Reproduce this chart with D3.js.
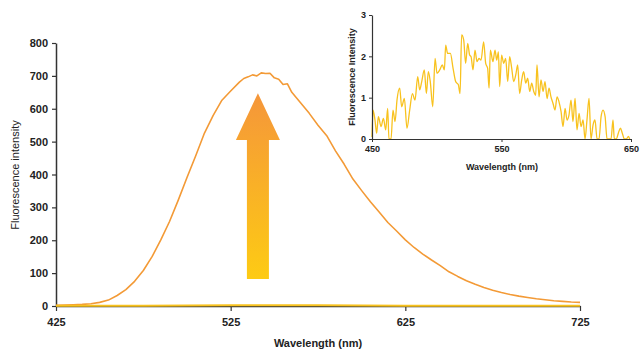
<!DOCTYPE html>
<html>
<head>
<meta charset="utf-8">
<script src="https://cdn.jsdelivr.net/npm/d3@7"></script>
<style>
  body { margin: 0; background: #fff; }
  text { font-family: "Liberation Sans", Arial, sans-serif; fill: #222; }
</style>
</head>
<body>
<svg id="mainsvg" width="640" height="351"></svg>
<script>
// main spectrum (after)
const mainWl = [425, 430, 435, 440, 445, 450, 455, 460, 465, 470, 475, 480, 485, 490, 495, 500, 505, 510,
  515, 520, 525, 530, 532.5, 535, 537.5, 540, 542.5, 545, 547.5, 550, 552.5, 555, 557.5, 560, 562.5, 565,
  570, 575, 580, 585, 590, 595, 600, 605, 610, 615, 620, 625, 630, 635, 640, 645, 650, 655, 660, 665,
  670, 675, 680, 685, 690, 695, 700, 705, 710, 715, 720, 725];
const mainVal = [2, 3, 4, 5, 7, 11, 18, 32, 50, 75, 108, 150, 201, 257, 322, 391, 457, 526,
  580, 626, 654, 681, 692, 697, 703, 700, 709, 707, 708, 694, 690, 674, 676, 650, 634, 618,
  586, 550, 518, 472, 431, 386, 351, 317, 286, 254, 228,
  201, 178, 158, 140, 123, 104, 90, 77, 66,
  56, 48, 41, 35, 30, 26, 22, 19, 16, 14, 12, 11];
// baseline spectrum (before) on the main chart
const baseWl = [425, 475, 525, 575, 625, 675, 725];
const baseVal = [1, 1, 2, 2, 1, 1, 1];

// inset spectrum
const insetWl = [450.0, 450.8, 452.3, 453.6, 454.9, 457.0, 458.8, 460.6, 462.1, 463.1, 464.7, 466.2, 467.8,
  469.3, 471.4, 472.9, 475.0, 477.0, 479.1, 481.2, 483.2, 485.3, 486.8, 488.4, 490.4, 492.0, 493.5, 495.0,
  496.9, 498.7, 500.2, 502.3, 504.3, 505.9, 506.9, 508.4, 510.5, 512.6, 514.6, 516.7, 518.0, 519.2, 520.8,
  522.3, 523.9, 525.4, 526.5, 528.0, 529.5, 531.1, 532.6, 534.2, 536.2, 537.8, 539.3, 540.4, 541.4, 543.4,
  545.0, 546.3, 547.6, 548.6, 550.1, 551.7, 553.2, 554.8, 556.3, 557.9, 559.4, 561.0, 562.5, 564.0, 565.6,
  567.1, 568.7, 570.2, 571.8, 573.3, 574.9, 576.4, 577.4, 579.0, 580.5, 582.1, 583.6, 585.2, 586.7, 588.2,
  589.8, 591.3, 592.9, 594.4, 596.0, 597.5, 599.1, 600.6, 602.1, 603.7, 605.2, 606.8, 608.3, 609.9, 611.4,
  613.0, 614.5, 616.0, 617.6, 619.1, 620.7, 622.2, 623.8, 625.3, 626.9, 628.4, 630.0, 631.5, 633.0, 634.6,
  636.1, 637.1, 638.7, 640.2, 641.8, 643.3, 644.9, 646.4, 648.0, 649.0];
const insetVal = [0.05, 0.70, 0.46, 0.14, 0.54, 0.30, 0.50, 0.22, 0.74, 0.00, 0.00, 0.70, 0.42,
  0.94, 1.23, 0.78, 0.98, 0.26, 0.70, 1.10, 0.94, 1.51, 1.19, 1.39, 1.67, 1.10, 1.63, 1.39,
  0.78, 1.95, 1.59, 1.67, 1.79, 1.67, 2.27, 2.07, 2.07, 1.71, 1.39, 1.31, 1.10, 2.52, 2.40,
  1.83, 2.31, 2.03, 1.99, 1.67, 2.15, 1.87, 1.95, 1.91, 2.35, 1.83, 1.71, 1.23, 2.15, 1.87,
  2.15, 1.91, 2.11, 1.27, 2.03, 1.83, 1.95, 1.39, 1.99, 1.71, 1.39, 1.55, 1.79, 1.10, 1.43,
  1.63, 1.35, 1.47, 1.15, 1.35, 1.15, 1.06, 1.79, 1.02, 1.43, 1.15, 1.39, 0.98, 1.23, 1.02,
  0.86, 0.70, 1.02, 0.90, 0.66, 0.30, 0.74, 0.46, 0.58, 0.94, 0.42, 0.98, 0.22, 0.62, 0.30,
  0.46, 0.00, 0.46, 0.98, 0.00, 0.34, 0.46, 0.00, 0.00, 0.54, 0.70, 0.54, 0.00, 0.00, 0.00,
  0.46, 0.00, 0.00, 0.14, 0.26, 0.14, 0.00, 0.00, 0.06, 0.00];

const mainXTicks = [425, 525, 625, 725];
const mainYTicks = [0, 100, 200, 300, 400, 500, 600, 700, 800];
const insetXTicks = [450, 550, 650];
const insetYTicks = [0, 1, 2, 3];

// arrow annotation, in data units: [wavelength, intensity]
const arrowPts = [[534.3, 82], [534.3, 505], [528, 505], [540.6, 647], [553.2, 505], [546.9, 505], [546.9, 82]];

const svg = d3.select('#mainsvg');
const orange = '#f39a36';
const yellow = '#f8c21e';

// ---------- main chart ----------
const x = d3.scaleLinear().domain([425, 725]).range([56, 580]);
const y = d3.scaleLinear().domain([0, 800]).range([306, 43]);

const defs = svg.append('defs');
const grad = defs.append('linearGradient').attr('id', 'arrowGrad')
  .attr('x1', 0).attr('y1', 0).attr('x2', 0).attr('y2', 1);
grad.append('stop').attr('offset', '0%').attr('stop-color', '#f5963a');
grad.append('stop').attr('offset', '100%').attr('stop-color', '#fdcb14');

svg.append('path')
  .attr('d', d3.line().x(d => x(d[0])).y(d => y(d[1]))(arrowPts) + 'Z')
  .attr('fill', 'url(#arrowGrad)');

const yAxisG = svg.append('g')
  .attr('transform', 'translate(56,0)')
  .call(d3.axisLeft(y).tickValues(mainYTicks).tickSize(4).tickPadding(4).tickSizeOuter(0));
const xAxisG = svg.append('g')
  .attr('transform', 'translate(0,306)')
  .call(d3.axisBottom(x).tickValues(mainXTicks).tickSize(5).tickPadding(7).tickSizeOuter(0));

[yAxisG, xAxisG].forEach(g => {
  g.select('.domain').attr('stroke', '#333').attr('stroke-width', 1.5);
  g.selectAll('.tick line').attr('stroke', '#333').attr('stroke-width', 1.2);
  g.selectAll('.tick text').attr('font-size', 11).attr('font-weight', 'bold')
    .attr('font-family', '"Liberation Sans", Arial, sans-serif').attr('fill', '#222');
});

const line = d3.line().x(d => x(d[0])).y(d => y(d[1]));

svg.append('path')
  .datum(mainWl.map((w, i) => [w, mainVal[i]]))
  .attr('d', line)
  .attr('fill', 'none').attr('stroke', orange).attr('stroke-width', 1.6)
  .attr('stroke-linejoin', 'round');

// the "before" spectrum lies on the x axis
svg.append('path')
  .datum(baseWl.map((w, i) => [w, baseVal[i]]))
  .attr('d', line)
  .attr('fill', 'none').attr('stroke', yellow).attr('stroke-width', 2);

svg.append('text')
  .attr('transform', 'translate(19,175) rotate(-90)')
  .attr('text-anchor', 'middle')
  .attr('font-size', 11)
  .text('Fluorescence intensity');

svg.append('text')
  .attr('x', 318).attr('y', 347)
  .attr('text-anchor', 'middle')
  .attr('font-size', 11).attr('font-weight', 'bold')
  .text('Wavelength (nm)');

// ---------- inset ----------
const ix = d3.scaleLinear().domain([450, 650]).range([372, 631]);
const iy = d3.scaleLinear().domain([0, 3]).range([139, 15]);

svg.append('path')
  .datum(insetWl.map((w, i) => [w, insetVal[i]]))
  .attr('d', d3.line().x(d => ix(d[0])).y(d => iy(d[1])).curve(d3.curveMonotoneX))
  .attr('fill', 'none').attr('stroke', yellow).attr('stroke-width', 1.3);

const iyAxisG = svg.append('g')
  .attr('transform', 'translate(372,0)')
  .call(d3.axisLeft(iy).tickValues(insetYTicks).tickFormat(d3.format('d'))
    .tickSize(3).tickPadding(3).tickSizeOuter(0));
const ixAxisG = svg.append('g')
  .attr('transform', 'translate(0,139)')
  .call(d3.axisBottom(ix).tickValues(insetXTicks).tickSize(3).tickPadding(4).tickSizeOuter(0));

[iyAxisG, ixAxisG].forEach(g => {
  g.select('.domain').attr('stroke', '#333').attr('stroke-width', 1.2);
  g.selectAll('.tick line').attr('stroke', '#333');
  g.selectAll('.tick text').attr('font-size', 9).attr('font-weight', 'bold')
    .attr('font-family', '"Liberation Sans", Arial, sans-serif').attr('fill', '#222');
});

svg.append('text')
  .attr('transform', 'translate(355,77) rotate(-90)')
  .attr('text-anchor', 'middle')
  .attr('font-size', 9).attr('font-weight', 'bold')
  .text('Fluorescence Intensity');

svg.append('text')
  .attr('x', 502).attr('y', 170)
  .attr('text-anchor', 'middle')
  .attr('font-size', 9).attr('font-weight', 'bold')
  .text('Wavelength (nm)');
</script>
</body>
</html>
